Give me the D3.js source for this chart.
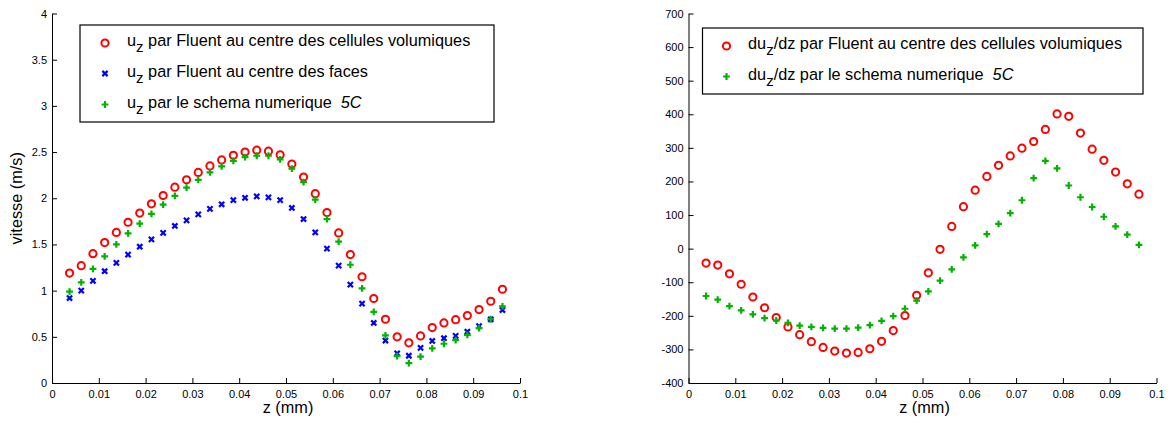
<!DOCTYPE html>
<html><head><meta charset="utf-8">
<script src="https://cdn.jsdelivr.net/npm/d3@7"></script>
<style>
html,body{margin:0;padding:0;background:#fff;}
svg{display:block;font-family:"Liberation Sans",Arial,Helvetica,sans-serif;}
</style></head>
<body>
<svg id="chart" width="1168" height="421"></svg>
<script>
// ---- data ----
const z = [0.00375,0.00625,0.00875,0.01125,0.01375,0.01625,0.01875,0.02125,0.02375,0.02625,
  0.02875,0.03125,0.03375,0.03625,0.03875,0.04125,0.04375,0.04625,0.04875,0.05125,
  0.05375,0.05625,0.05875,0.06125,0.06375,0.06625,0.06875,0.07125,0.07375,0.07625,
  0.07875,0.08125,0.08375,0.08625,0.08875,0.09125,0.09375,0.09625];

const uzCells = [1.19,1.27,1.40,1.52,1.63,1.74,1.84,1.94,2.03,2.12,2.20,2.28,2.35,2.415,2.465,2.50,2.52,2.51,2.47,2.37,
  2.23,2.05,1.845,1.625,1.39,1.15,0.915,0.69,0.50,0.435,0.51,0.60,0.65,0.685,0.73,0.795,0.885,1.015];
const uzFaces = [0.92,1.00,1.105,1.21,1.30,1.39,1.475,1.555,1.625,1.70,1.76,1.825,1.885,1.935,1.98,2.005,2.02,2.01,1.98,1.895,
  1.775,1.63,1.455,1.27,1.065,0.86,0.65,0.46,0.32,0.295,0.38,0.455,0.485,0.51,0.555,0.615,0.69,0.79];
const uz5C = [0.99,1.09,1.235,1.37,1.50,1.62,1.725,1.83,1.93,2.025,2.115,2.20,2.28,2.345,2.405,2.445,2.46,2.46,2.42,2.32,
  2.175,1.985,1.775,1.53,1.28,1.025,0.77,0.515,0.29,0.215,0.285,0.375,0.425,0.465,0.52,0.595,0.69,0.83];

const duzCells = [-43,-49,-75,-106,-144,-176,-205,-233,-256,-277,-294,-305,-311,-309,-298,-276,-244,-199,-139,-72,
  -2,66,125,174,215,248,276,299,319,355,401,394,344,296,263,228,193,162];
const duz5C = [-141,-152,-171,-184,-196,-207,-214,-221,-229,-233,-236,-238,-238,-235,-228,-215,-201,-179,-155,-127,
  -95,-62,-26,10,43,74,106,144,210,261,239,188,153,124,95,66,42,11];

const xTicks = [0,0.01,0.02,0.03,0.04,0.05,0.06,0.07,0.08,0.09,0.1];
const xTickLabels = ["0","0.01","0.02","0.03","0.04","0.05","0.06","0.07","0.08","0.09","0.1"];
const yTicksL = [0,0.5,1,1.5,2,2.5,3,3.5,4];
const yTickLabelsL = ["0","0.5","1","1.5","2","2.5","3","3.5","4"];
const yTicksR = [-400,-300,-200,-100,0,100,200,300,400,500,600,700];
const yTickLabelsR = ["-400","-300","-200","-100","0","100","200","300","400","500","600","700"];

const legendLeft = [
  {pre:"u", sub:"z", post:" par Fluent au centre des cellules volumiques", ital:"", mk:"o"},
  {pre:"u", sub:"z", post:" par Fluent au centre des faces", ital:"", mk:"x"},
  {pre:"u", sub:"z", post:" par le schema numerique", ital:"5C", mk:"+"}
];
const legendRight = [
  {pre:"du", sub:"z", post:"/dz par Fluent au centre des cellules volumiques", ital:"", mk:"o"},
  {pre:"du", sub:"z", post:"/dz par le schema numerique", ital:"5C", mk:"+"}
];

// ---- drawing ----
const svg = d3.select("#chart");
const RED = "#ff0000", BLUE = "#0000ff", GREEN = "#00b400";
const LFONT = 16.3;

function drawMarker(g, type, x, y) {
  if (type === "o") {
    g.append("circle").attr("cx", x).attr("cy", y).attr("r", 3.6)
      .attr("fill", "none").attr("stroke", RED).attr("stroke-width", 2);
  } else if (type === "x") {
    const s = 2.6;
    g.append("path").attr("d", `M${x-s},${y-s}L${x+s},${y+s}M${x-s},${y+s}L${x+s},${y-s}`)
      .attr("stroke", BLUE).attr("stroke-width", 2.2).attr("fill", "none");
  } else {
    const s = 3.4;
    g.append("path").attr("d", `M${x-s},${y}L${x+s},${y}M${x},${y-s}L${x},${y+s}`)
      .attr("stroke", GREEN).attr("stroke-width", 2.2).attr("fill", "none");
  }
}

function panel(opts) {
  const x = d3.scaleLinear().domain([0, 0.1]).range([opts.x0, opts.x1]);
  const y = d3.scaleLinear().domain(opts.ydom).range([opts.y1, opts.y0]);
  const g = svg.append("g");

  const xa = d3.axisBottom(x).tickValues(xTicks)
    .tickFormat((d, i) => xTickLabels[i]).tickSizeInner(-5).tickSizeOuter(0).tickPadding(7);
  const ya = d3.axisLeft(y).tickValues(opts.yticks)
    .tickFormat((d, i) => opts.ylabels[i]).tickSizeInner(-5).tickSizeOuter(0).tickPadding(5);

  const gx = g.append("g").attr("transform", `translate(0,${opts.y1})`).call(xa);
  const gy = g.append("g").attr("transform", `translate(${opts.x0},0)`).call(ya);
  [gx, gy].forEach(a => {
    a.selectAll("text").attr("font-size", 11).attr("fill", "#000")
      .attr("font-family", '"Liberation Sans",Arial,sans-serif');
    a.selectAll("line,path").attr("stroke", "#000");
  });

  // series
  opts.series.forEach(s => {
    const sg = g.append("g");
    s.vals.forEach((v, i) => drawMarker(sg, s.mk, x(z[i]), y(v)));
  });

  // axis labels
  g.append("text").attr("x", (opts.x0 + opts.x1) / 2 + 2).attr("y", 413)
    .attr("text-anchor", "middle").attr("font-size", 16.3).text("z (mm)");
  if (opts.ylab) {
    g.append("text").attr("transform", `translate(${opts.x0 - 30},${(opts.y0 + opts.y1) / 2}) rotate(-90)`)
      .attr("text-anchor", "middle").attr("font-size", 16.3).text(opts.ylab);
  }

  // legend
  const L = opts.legend;
  const lg = g.append("g");
  lg.append("rect").attr("x", L.x).attr("y", L.y).attr("width", L.w).attr("height", L.h)
    .attr("fill", "#fff").attr("stroke", "#000").attr("stroke-width", 1.2);
  L.items.forEach((it, i) => {
    const cy = L.rows[i];
    drawMarker(lg, it.mk, L.mx, cy);
    const t = lg.append("text").attr("x", L.tx).attr("y", cy + 3).attr("font-size", LFONT).attr("fill", "#000");
    t.append("tspan").text(it.pre);
    t.append("tspan").attr("dy", 6).attr("font-size", 15).text(it.sub);
    t.append("tspan").attr("dy", -6).text(it.post);
    if (it.ital) t.append("tspan").attr("dx", 9).attr("font-style", "italic").text(it.ital);
  });
}

panel({
  x0: 52, x1: 520, y0: 13.5, y1: 383, ydom: [0, 4],
  yticks: yTicksL, ylabels: yTickLabelsL, ylab: "vitesse (m/s)",
  series: [{vals: uzCells, mk: "o"}, {vals: uzFaces, mk: "x"}, {vals: uz5C, mk: "+"}],
  legend: {x: 80, y: 25, w: 414, h: 97, mx: 105, tx: 127, rows: [43, 73.5, 104.5], items: legendLeft}
});
panel({
  x0: 688.5, x1: 1156.5, y0: 13.5, y1: 383, ydom: [-400, 700],
  yticks: yTicksR, ylabels: yTickLabelsR, ylab: null,
  series: [{vals: duzCells, mk: "o"}, {vals: duz5C, mk: "+"}],
  legend: {x: 702.5, y: 28, w: 440.5, h: 66, mx: 726.5, tx: 748, rows: [46, 76.5], items: legendRight}
});
</script>
</body></html>
